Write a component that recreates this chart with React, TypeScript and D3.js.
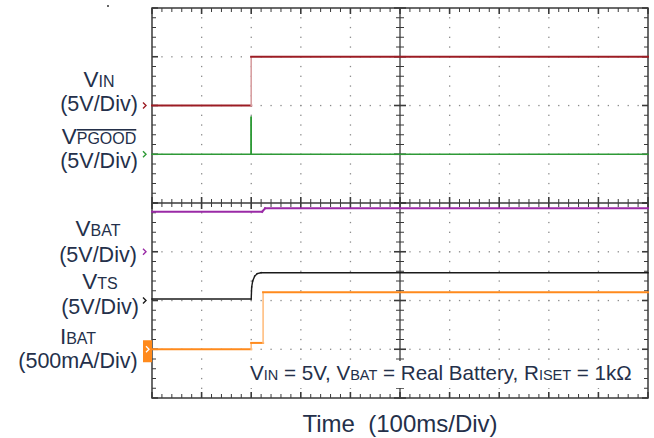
import * as React from "react"
import * as d3 from "d3"

// time base: 100 ms/div, 10 divisions
const timeDomain = [0, 1000]
const timeTicksMajor = d3.range(0, 1001, 100)
const timeTicksMinor = d3.range(0, 1001, 20)
const divTicksMajor = d3.range(0, 4.01, 1)
const divTicksMinor = d3.range(0, 4.01, 0.2)

// traces: time (ms) / value in channel units
const vinT = [0, 200, 200, 1000]
const vinV = [0, 0, 5, 5]
const pgoodT = [0, 200, 200, 200, 1000]
const pgoodV = [0, 0, 3.8, 0, 0]
const vbatT = [0, 222, 228, 1000]
const vbatV = [4.1, 4.1, 4.45, 4.45]
const vtsT = [0, 200, 201, 203, 207, 212, 220, 1000]
const vtsV = [0.15, 0.15, 1.4, 2.0, 2.5, 2.75, 2.85, 2.85]
const ibatT = [0, 200, 200, 224, 224, 1000]
const ibatV = [0, 0, 65, 65, 585, 585]

type Channel = {
  name: string
  sub: string
  unit: string
  panel: "top" | "bottom"
  zeroDiv: number
  perDiv: number
  t: number[]
  v: number[]
  color: string
  edge?: string
  width: number
  overline?: boolean
}

const channels: Channel[] = [
  { name: "V", sub: "IN", unit: "(5V/Div)", panel: "top", zeroDiv: 2, perDiv: 5, t: vinT, v: vinV, color: "#9c1c24", edge: "#d8a0a2", width: 2 },
  { name: "V", sub: "PGOOD", unit: "(5V/Div)", panel: "top", zeroDiv: 1, perDiv: 5, t: pgoodT, v: pgoodV, color: "#2e9a36", width: 1.6, overline: true },
  { name: "V", sub: "BAT", unit: "(5V/Div)", panel: "bottom", zeroDiv: 3, perDiv: 5, t: vbatT, v: vbatV, color: "#9a2aa6", width: 2 },
  { name: "V", sub: "TS", unit: "(5V/Div)", panel: "bottom", zeroDiv: 2, perDiv: 5, t: vtsT, v: vtsV, color: "#1a1a1a", width: 1.4 },
  { name: "I", sub: "BAT", unit: "(500mA/Div)", panel: "bottom", zeroDiv: 1, perDiv: 500, t: ibatT, v: ibatV, color: "#ff8a1c", edge: "#ffbe80", width: 2 },
]

// label placement per channel: [centre x, name baseline, unit baseline]
const labelPos = [
  [99, 87, 111],
  [99, 144, 168],
  [98, 236, 262],
  [100, 289, 314],
  [78, 344, 368],
]

const textColor = "#24304a"
const font = "'Liberation Sans', Arial, sans-serif"

export default function App() {
  const width = 654
  const height = 438
  const left = 152, right = 648, top = 8, mid = 203, bottom = 398

  const x = d3.scaleLinear().domain(timeDomain).range([left, right])
  const yTop = d3.scaleLinear().domain([0, 4]).range([mid, top])
  const yBot = d3.scaleLinear().domain([0, 4]).range([bottom, mid])
  const panelY = (c: Channel) => (c.panel === "top" ? yTop : yBot)
  const chY = (c: Channel, v: number) => panelY(c)(c.zeroDiv + v / c.perDiv)

  const gridColor = "#8a8a8a"
  const frame = "#3a3a3a"

  // grid dots
  const dots: JSX.Element[] = []
  timeTicksMajor.slice(1, -1).forEach((t) => {
    if (t === 500) return
    ;[yTop, yBot].forEach((ys, pi) =>
      divTicksMinor.slice(1, -1).forEach((d) => {
        dots.push(<rect key={`v${t}-${pi}-${d}`} x={x(t) - 0.6} y={ys(d) - 0.6} width={1.3} height={1.3} fill={gridColor} />)
      })
    )
  })
  ;[yTop, yBot].forEach((ys, pi) =>
    divTicksMajor.slice(1, -1).forEach((d) =>
      timeTicksMinor.slice(1, -1).forEach((t) => {
        dots.push(<rect key={`h${pi}-${d}-${t}`} x={x(t) - 0.6} y={ys(d) - 0.6} width={1.3} height={1.3} fill={gridColor} />)
      })
    )
  )

  // ticks on frame, divider and center axis
  const ticks: JSX.Element[] = []
  timeTicksMinor.forEach((t, i) => {
    const major = t % 100 === 0
    const len = major ? 6 : 4
    const sw = major ? 1.6 : 1
    ticks.push(<line key={`tt${i}`} x1={x(t)} x2={x(t)} y1={top} y2={top + len} stroke={frame} strokeWidth={sw} />)
    ticks.push(<line key={`tb${i}`} x1={x(t)} x2={x(t)} y1={bottom} y2={bottom - len} stroke={frame} strokeWidth={sw} />)
    ticks.push(<line key={`tm${i}`} x1={x(t)} x2={x(t)} y1={mid - len} y2={mid + len} stroke={frame} strokeWidth={sw} />)
  })
  ;[yTop, yBot].forEach((ys, pi) =>
    divTicksMinor.forEach((d, i) => {
      const major = Math.abs(d - Math.round(d)) < 1e-6
      const len = major ? 6 : 4
      const sw = major ? 1.6 : 1
      ticks.push(<line key={`l${pi}-${i}`} x1={left} x2={left + len} y1={ys(d)} y2={ys(d)} stroke={frame} strokeWidth={sw} />)
      ticks.push(<line key={`r${pi}-${i}`} x1={right} x2={right - len} y1={ys(d)} y2={ys(d)} stroke={frame} strokeWidth={sw} />)
      ticks.push(<line key={`c${pi}-${i}`} x1={x(500) - len} x2={x(500) + len} y1={ys(d)} y2={ys(d)} stroke={frame} strokeWidth={sw} />)
    })
  )

  return (
    <svg width={width} height={height} viewBox={`0 0 ${width} ${height}`} style={{ position: "absolute", left: 0, top: 0, background: "#fff" }}>
      <rect width={width} height={height} fill="#fff" />
      <circle cx={108} cy={6} r={1} fill="#333" />
      {dots}
      {/* center axis and panel divider */}
      <line x1={x(500)} x2={x(500)} y1={top} y2={bottom} stroke={frame} strokeWidth={1.3} />
      <line x1={left} x2={right} y1={mid} y2={mid} stroke={frame} strokeWidth={1.5} />
      {ticks}
      <rect x={left} y={top} width={right - left} height={bottom - top} fill="none" stroke={frame} strokeWidth={1.5} />

      {/* traces */}
      {channels.map((c, ci) => (
        <g key={`tr${ci}`}>
          {c.t.slice(1).map((t, i) => {
            const t0 = c.t[i]
            const vertical = t0 === t
            return (
              <line
                key={i}
                x1={x(t0)}
                y1={chY(c, c.v[i])}
                x2={x(t)}
                y2={chY(c, c.v[i + 1])}
                stroke={vertical && c.edge ? c.edge : c.color}
                strokeWidth={vertical ? Math.min(1.6, c.width) : c.width}
                strokeLinecap="square"
              />
            )
          })}
        </g>
      ))}

      {/* channel markers */}
      {channels.map((c, ci) => {
        const y0 = chY(c, 0)
        if (c.name === "I") {
          return (
            <g key={`m${ci}`}>
              <rect x={left - 9} y={y0 - 9} width={9} height={22} fill={c.color} />
              <path d={`M${left - 6},${y0 - 3} L${left - 3},${y0} L${left - 6},${y0 + 3}`} fill="none" stroke="#fff" strokeWidth={1.3} />
            </g>
          )
        }
        return (
          <path key={`m${ci}`} d={`M${left - 9},${y0 - 3} L${left - 6},${y0} L${left - 9},${y0 + 3}`} fill="none" stroke={c.color} strokeWidth={1.4} />
        )
      })}

      {/* channel labels */}
      {channels.map((c, ci) => {
        const [cx, ny, uy] = labelPos[ci]
        return (
          <g key={`lb${ci}`} fontFamily={font} fill={textColor} textAnchor="middle">
            <text x={cx} y={ny} fontSize={22.5}>
              <tspan>{c.name}</tspan>
              <tspan fontSize={16} style={c.overline ? { textDecoration: "overline" } : undefined}>{c.sub}</tspan>
            </text>
            <text x={cx} y={uy} fontSize={21.5}>{c.unit}</text>
          </g>
        )
      })}

      {/* conditions */}
      <rect x={246} y={361} width={392} height={27} fill="#fff" />
      <text x={250} y={380} fontFamily={font} fontSize={20.6} fill={textColor}>
        <tspan>V</tspan><tspan fontSize={14.5}>IN</tspan><tspan> = 5V, V</tspan><tspan fontSize={14.5}>BAT</tspan>
        <tspan> = Real Battery, R</tspan><tspan fontSize={14.5}>ISET</tspan><tspan> = 1kΩ</tspan>
      </text>

      <text x={x(500)} y={432} textAnchor="middle" fontFamily={font} fontSize={24} fill={textColor} style={{ whiteSpace: "pre" }}>
        {"Time  (100ms/Div)"}
      </text>
    </svg>
  )
}
